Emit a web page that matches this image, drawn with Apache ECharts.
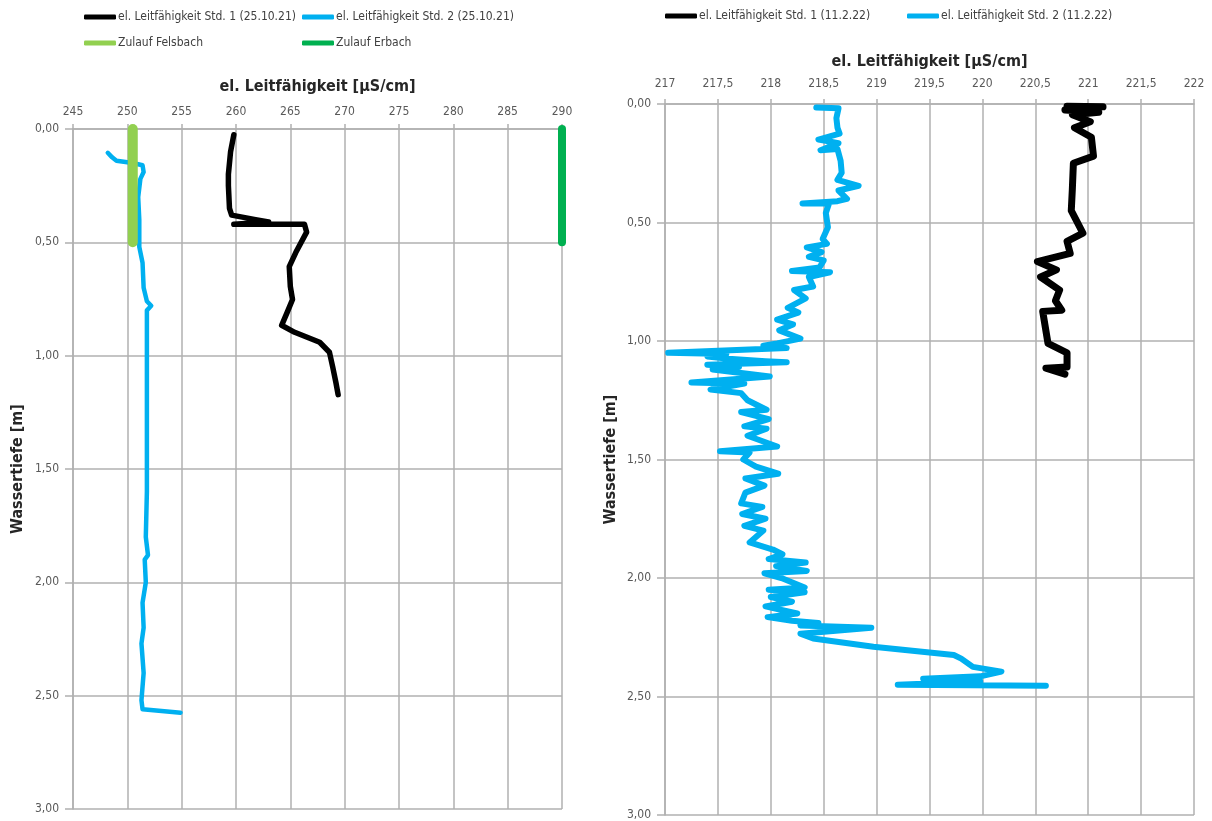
<!DOCTYPE html>
<html>
<head>
<meta charset="utf-8">
<script src="https://cdn.jsdelivr.net/npm/echarts@6/dist/echarts.min.js"></script>
<style>
  html, body { margin: 0; padding: 0; background: #ffffff; }
  #chart { width: 1212px; height: 821px; }
</style>
</head>
<body>
<div id="chart"></div>
<script>
// Profile 25.10.21 — conductivity (µS/cm) against water depth (m)
const std1OctValue = [259.8, 259.5, 259.3, 259.3, 259.4, 259.6, 261.8, 263.0, 259.8, 266.3, 266.5, 265.5, 264.9, 265.0, 265.2, 264.7, 264.2, 265.4, 267.7, 268.6, 268.9, 269.2, 269.4];
const std1OctDepth = [0.025, 0.10, 0.20, 0.25, 0.35, 0.38, 0.40, 0.41, 0.42, 0.42, 0.455, 0.545, 0.607, 0.695, 0.752, 0.81, 0.866, 0.897, 0.941, 0.985, 1.05, 1.12, 1.172];

const std2OctValue = [248.2, 248.6, 249.0, 250.5, 251.4, 251.5, 251.2, 251.0, 251.1, 251.1, 251.1, 251.4, 251.5, 251.8, 252.2, 251.8, 251.8, 251.8, 251.8, 251.8, 251.8, 251.7, 251.9, 251.6, 251.7, 251.4, 251.5, 251.3, 251.5, 251.3, 251.4, 254.9];
const std2OctDepth = [0.105, 0.125, 0.14, 0.15, 0.16, 0.19, 0.22, 0.30, 0.40, 0.50, 0.52, 0.59, 0.70, 0.76, 0.78, 0.80, 0.90, 1.00, 1.20, 1.40, 1.60, 1.80, 1.88, 1.90, 2.00, 2.09, 2.20, 2.27, 2.40, 2.52, 2.56, 2.575];

// Inflows (constant value over the upper half metre)
const felsbachValue = [250.5, 250.5];
const felsbachDepth = [0, 0.5];
const erbachValue = [290, 290];
const erbachDepth = [0, 0.5];

// Profile 11.2.22
const std1FebValue = [220.80, 221.14, 220.78, 221.10, 220.85, 221.02, 220.87, 221.03, 221.05, 220.86, 220.85, 220.84, 220.95, 220.80, 220.83, 220.52, 220.70, 220.55, 220.73, 220.69, 220.75, 220.57, 220.62, 220.80, 220.80, 220.60, 220.78];
const std1FebDepth = [0.01, 0.012, 0.025, 0.035, 0.045, 0.075, 0.10, 0.14, 0.22, 0.25, 0.36, 0.45, 0.545, 0.58, 0.63, 0.665, 0.70, 0.73, 0.785, 0.83, 0.87, 0.875, 1.01, 1.05, 1.11, 1.115, 1.14];

const std2FebValue = [218.43, 218.64, 218.62, 218.63, 218.65, 218.45, 218.64, 218.47, 218.63, 218.66, 218.67, 218.63, 218.83, 218.64, 218.72, 218.63, 218.30, 218.55, 218.52, 218.54, 218.49, 218.53, 218.34, 218.48, 218.36, 218.50, 218.46, 218.20, 218.56, 218.36, 218.40, 218.22, 218.33, 218.16, 218.26, 218.06, 218.21, 218.08, 218.28, 218.06, 217.93, 218.15, 217.03, 217.58, 217.40, 217.60, 217.95, 218.15, 217.40, 217.70, 217.45, 217.99, 217.25, 217.75, 217.43, 217.72, 217.78, 217.96, 217.72, 217.98, 217.75, 217.96, 217.78, 218.06, 217.52, 217.80, 217.74, 217.86, 218.07, 217.76, 217.94, 217.76, 217.72, 217.92, 217.73, 217.95, 217.75, 217.93, 217.80, 218.02, 218.11, 217.98, 218.33, 218.05, 218.34, 217.94, 218.10, 218.32, 217.98, 218.32, 218.00, 218.20, 217.95, 218.25, 217.97, 218.20, 218.45, 218.28, 218.95, 218.28, 218.40, 218.97, 219.73, 219.80, 219.91, 220.18, 219.98, 219.44, 219.98, 219.20, 220.60];
const std2FebDepth = [0.015, 0.018, 0.06, 0.10, 0.125, 0.15, 0.165, 0.195, 0.19, 0.24, 0.29, 0.32, 0.345, 0.365, 0.40, 0.41, 0.42, 0.42, 0.46, 0.52, 0.57, 0.59, 0.605, 0.625, 0.645, 0.66, 0.69, 0.705, 0.71, 0.73, 0.77, 0.785, 0.82, 0.86, 0.88, 0.91, 0.93, 0.955, 0.99, 1.01, 1.02, 1.03, 1.05, 1.055, 1.065, 1.075, 1.085, 1.09, 1.10, 1.11, 1.12, 1.15, 1.175, 1.18, 1.205, 1.22, 1.25, 1.29, 1.30, 1.33, 1.36, 1.37, 1.40, 1.445, 1.465, 1.47, 1.50, 1.53, 1.56, 1.58, 1.61, 1.64, 1.685, 1.70, 1.73, 1.75, 1.78, 1.80, 1.85, 1.88, 1.90, 1.92, 1.935, 1.95, 1.97, 1.98, 2.00, 2.04, 2.05, 2.06, 2.08, 2.10, 2.12, 2.15, 2.165, 2.18, 2.19, 2.20, 2.21, 2.235, 2.255, 2.29, 2.325, 2.34, 2.375, 2.395, 2.415, 2.425, 2.437, 2.45, 2.455];

// Axis settings
const octAxisMin = 245, octAxisMax = 290, octAxisStep = 5;
const febAxisMin = 217, febAxisMax = 222, febAxisStep = 0.5;
const depthMin = 0, depthMax = 3, depthStep = 0.5;

const NAME_STD1_OCT = 'el. Leitfähigkeit Std. 1 (25.10.21)';
const NAME_STD2_OCT = 'el. Leitfähigkeit Std. 2 (25.10.21)';
const NAME_FELS = 'Zulauf Felsbach';
const NAME_ERB = 'Zulauf Erbach';
const NAME_STD1_FEB = 'el. Leitfähigkeit Std. 1 (11.2.22)';
const NAME_STD2_FEB = 'el. Leitfähigkeit Std. 2 (11.2.22)';

const zip = (xs, ys) => xs.map((x, i) => [x, ys[i]]);
const comma = (v, d) => (d == null ? String(v) : v.toFixed(d)).replace('.', ',');

const FONT = "'Liberation Sans Narrow', 'DejaVu Sans Condensed', 'Liberation Sans', sans-serif";
const GRID_COLOR = '#b0b0b0';
const LABEL_COLOR = '#595959';

function xAxisFor(gridIndex, min, max, step, labelMargin) {
  return {
    gridIndex, type: 'value', position: 'top', min, max, interval: step,
    name: 'el. Leitfähigkeit [µS/cm]', nameLocation: 'middle', nameGap: 34,
    nameTextStyle: { fontFamily: FONT, fontSize: 16, fontWeight: 'bold', color: '#262626' },
    axisLine: { show: true, lineStyle: { color: GRID_COLOR, width: 1.5 } },
    axisTick: { show: true, length: 5, lineStyle: { color: GRID_COLOR, width: 1.5 } },
    axisLabel: { margin: labelMargin, fontFamily: FONT, fontSize: 12, color: LABEL_COLOR,
                 formatter: v => comma(v) },
    splitLine: { show: true, lineStyle: { color: GRID_COLOR, width: 1.5 } }
  };
}
function yAxisFor(gridIndex, nameGap) {
  return {
    gridIndex, type: 'value', inverse: true, min: depthMin, max: depthMax, interval: depthStep,
    name: 'Wassertiefe [m]', nameLocation: 'middle', nameGap, nameRotate: 90,
    nameTextStyle: { fontFamily: FONT, fontSize: 16, fontWeight: 'bold', color: '#262626' },
    axisLine: { show: true, lineStyle: { color: GRID_COLOR, width: 1.5 } },
    axisTick: { show: true, length: 8, lineStyle: { color: GRID_COLOR, width: 1.5 } },
    axisLabel: { margin: 14, fontFamily: FONT, fontSize: 12, color: LABEL_COLOR,
                 formatter: v => comma(v, 2) },
    splitLine: { show: true, lineStyle: { color: GRID_COLOR, width: 1.5 } }
  };
}
function lineSeries(name, idx, data, color, width) {
  return {
    name, type: 'line', xAxisIndex: idx, yAxisIndex: idx, data,
    showSymbol: false, symbol: 'none', clip: true,
    lineStyle: { color, width, join: 'round', cap: 'round' },
    itemStyle: { color }
  };
}
function legendAt(name, left, top) {
  return {
    data: [name], left, top, icon: 'roundRect', itemWidth: 32, itemHeight: 5,
    selectedMode: false, padding: 0,
    textStyle: { fontFamily: FONT, fontSize: 12, color: '#404040', padding: [0, 0, 0, -3] }
  };
}

const chart = echarts.init(document.getElementById('chart'), null, { renderer: 'canvas' });
chart.setOption({
  animation: false,
  backgroundColor: '#ffffff',
  legend: [
    legendAt(NAME_STD1_OCT, 84, 11),
    legendAt(NAME_STD2_OCT, 302, 11),
    legendAt(NAME_FELS, 84, 37),
    legendAt(NAME_ERB, 302, 37),
    legendAt(NAME_STD1_FEB, 665, 10),
    legendAt(NAME_STD2_FEB, 907, 10)
  ],
  grid: [
    { left: 73, top: 129, width: 489, height: 680 },
    { left: 665, top: 104, width: 529, height: 711 }
  ],
  xAxis: [
    xAxisFor(0, octAxisMin, octAxisMax, octAxisStep, 11),
    xAxisFor(1, febAxisMin, febAxisMax, febAxisStep, 14)
  ],
  yAxis: [
    yAxisFor(0, 47),
    yAxisFor(1, 46)
  ],
  series: [
    lineSeries(NAME_STD1_OCT, 0, zip(std1OctValue, std1OctDepth), '#000000', 5.5),
    lineSeries(NAME_STD2_OCT, 0, zip(std2OctValue, std2OctDepth), '#00b0f0', 4.5),
    lineSeries(NAME_FELS, 0, zip(felsbachValue, felsbachDepth), '#92d050', 10),
    lineSeries(NAME_ERB, 0, zip(erbachValue, erbachDepth), '#00b050', 8),
    lineSeries(NAME_STD1_FEB, 1, zip(std1FebValue, std1FebDepth), '#000000', 7),
    lineSeries(NAME_STD2_FEB, 1, zip(std2FebValue, std2FebDepth), '#00b0f0', 6)
  ]
});
</script>
</body>
</html>
